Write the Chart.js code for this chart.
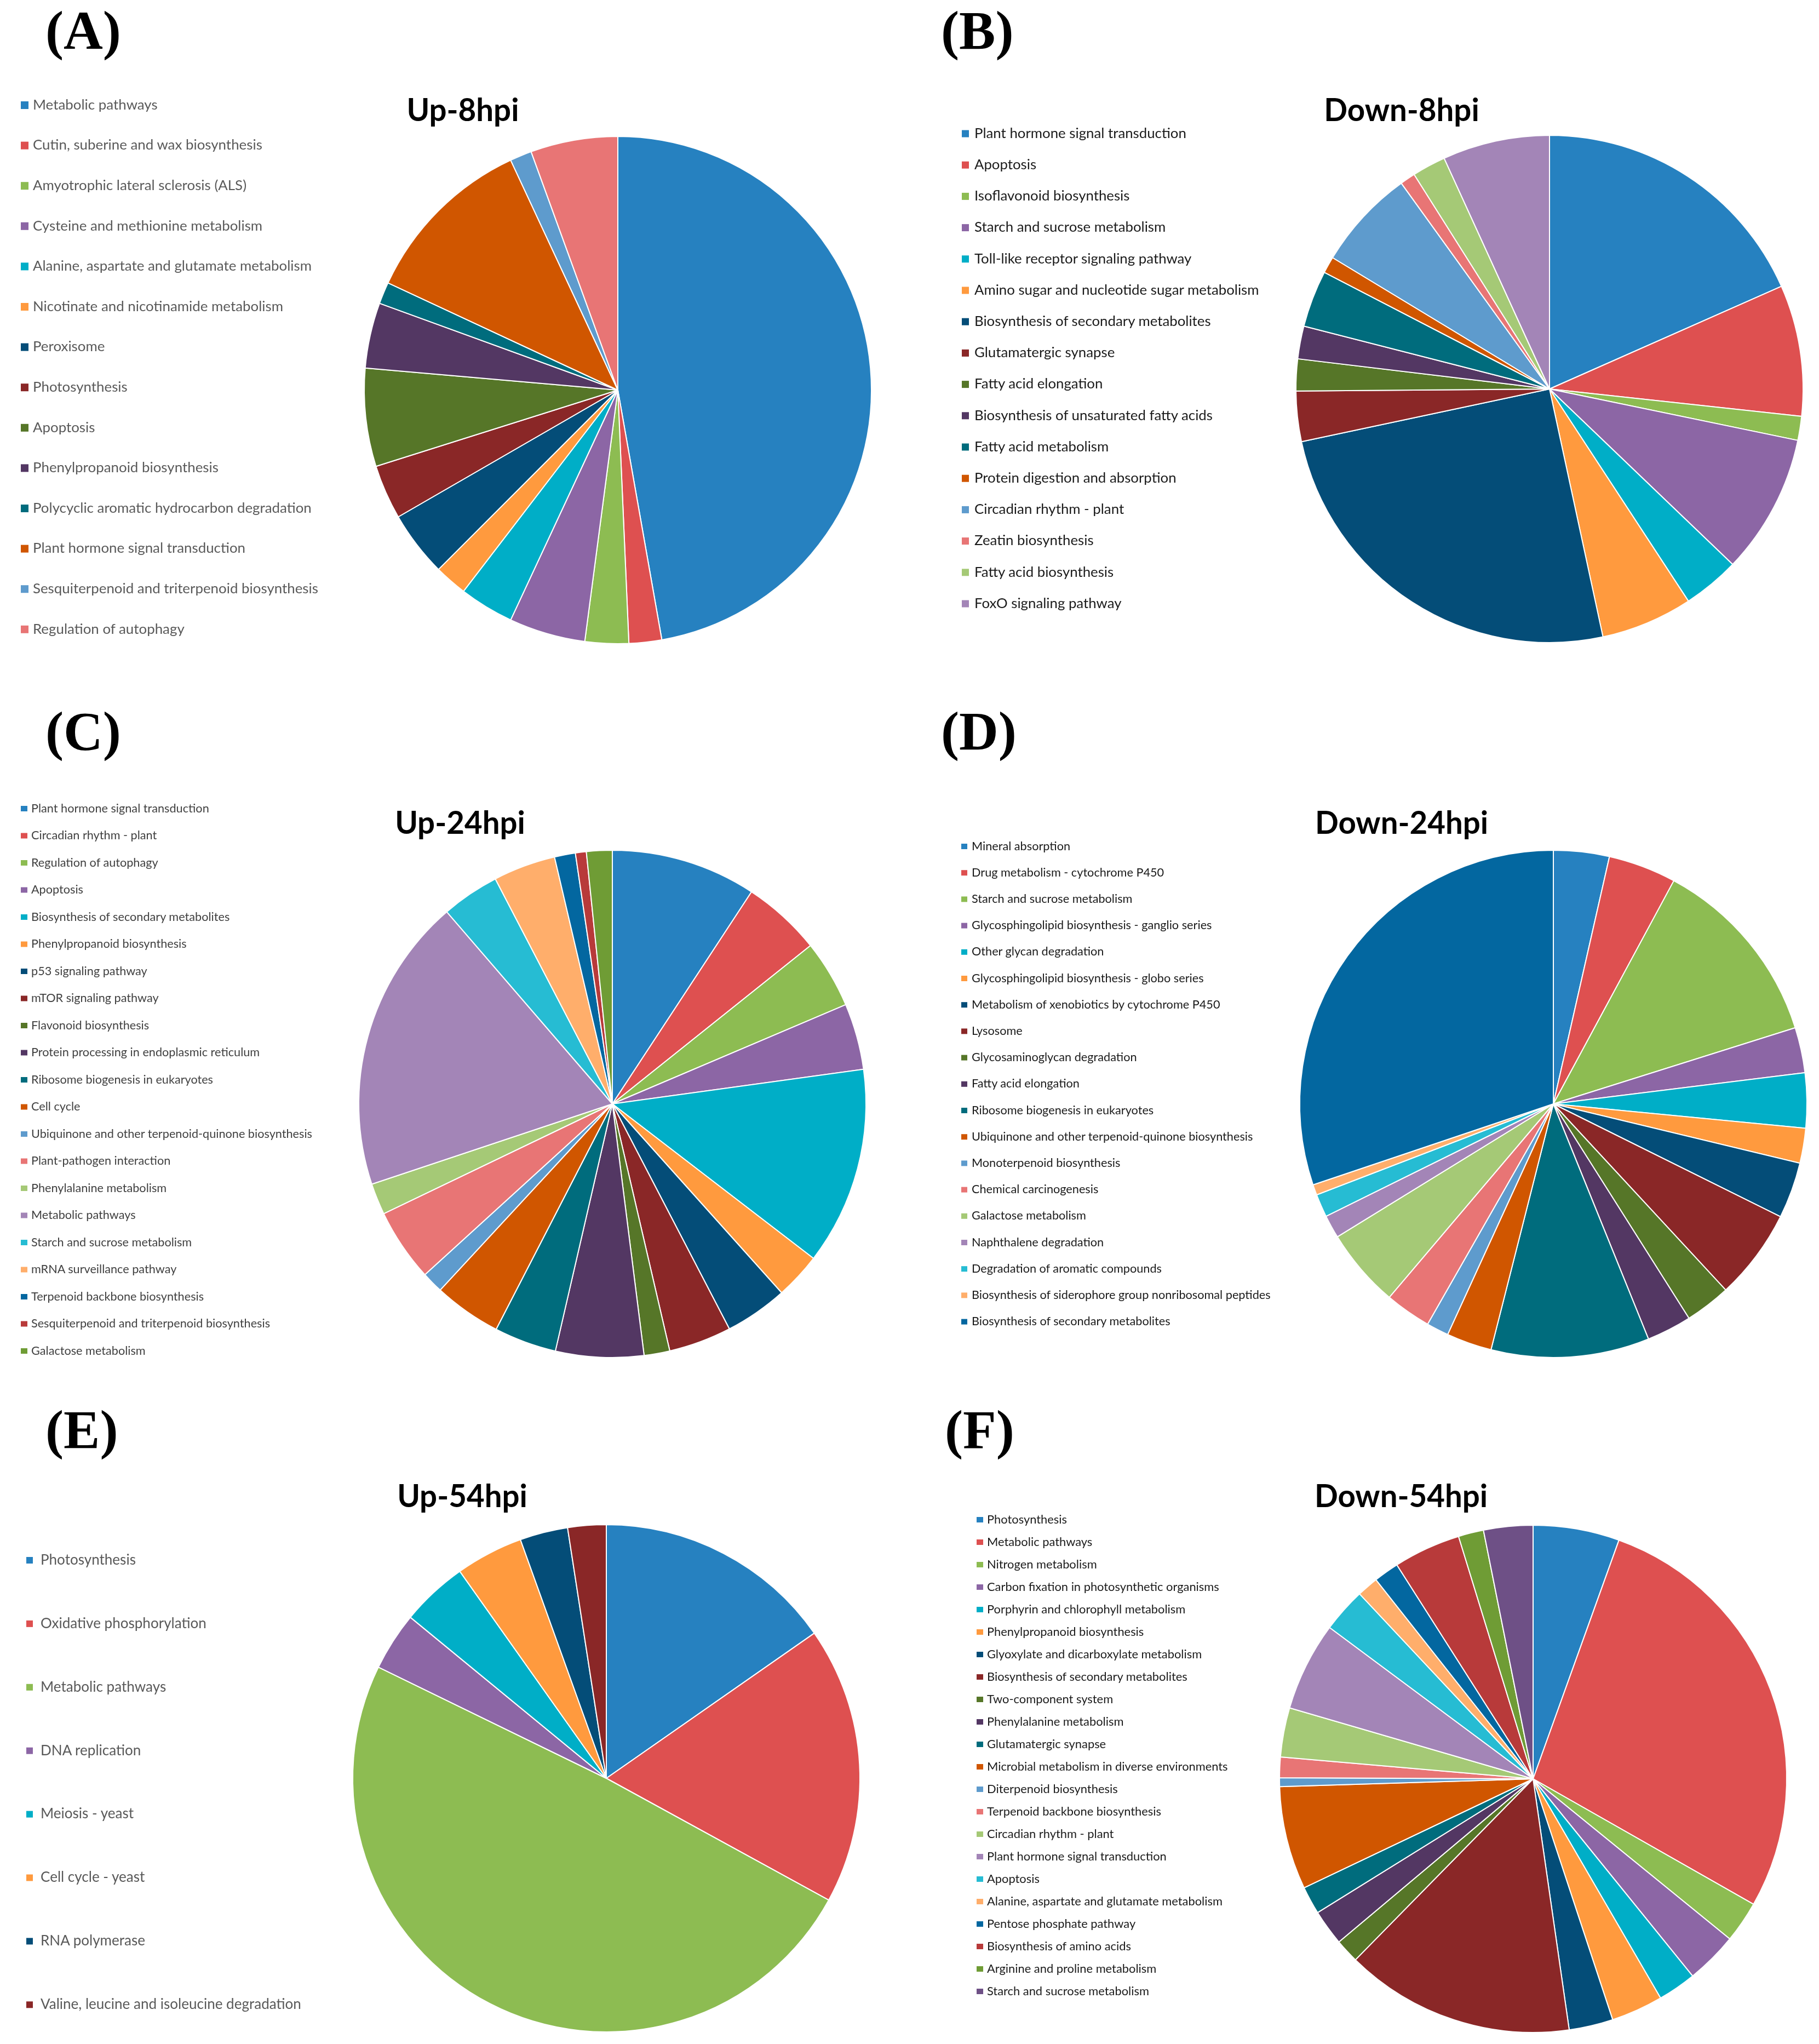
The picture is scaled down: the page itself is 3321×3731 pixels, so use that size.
<!DOCTYPE html>
<html>
<head>
<meta charset="utf-8">
<title>KEGG pathway pies</title>
<script src="https://cdn.jsdelivr.net/npm/chart.js@4.4.1/dist/chart.umd.min.js"></script>
<style>
  html, body { margin: 0; padding: 0; background: #fff; }
  #page { position: relative; width: 3321px; height: 3731px; background: #fff; overflow: hidden; }
  #page canvas { position: absolute; }
  #txt { position: absolute; left: 0; top: 0; pointer-events: none; }
</style>
</head>
<body>
<div id="page">
  <svg id="txt" width="3321" height="3731" xmlns="http://www.w3.org/2000/svg"></svg>
</div>
<script>
// slice colours, same order in every panel
const palette = ['#2681C0', '#DE5050', '#8DBC52', '#8C66A5', '#00AEC7', '#FF9A3E', '#044D78', '#8A2727',
                 '#567628', '#533763', '#006C7D', '#D05600', '#5E9BCD', '#E87575', '#A5C976', '#A385B7',
                 '#26BCD3', '#FFAE6B', '#0367A0', '#B83A3A', '#6F9C35', '#6E5086'];

// (A) Up-8hpi
const labelsA = ['Metabolic pathways', 'Cutin, suberine and wax biosynthesis', 'Amyotrophic lateral sclerosis (ALS)',
  'Cysteine and methionine metabolism', 'Alanine, aspartate and glutamate metabolism', 'Nicotinate and nicotinamide metabolism',
  'Peroxisome', 'Photosynthesis', 'Apoptosis', 'Phenylpropanoid biosynthesis', 'Polycyclic aromatic hydrocarbon degradation',
  'Plant hormone signal transduction', 'Sesquiterpenoid and triterpenoid biosynthesis', 'Regulation of autophagy'];
const valuesA = [68, 3, 4, 7, 5, 3, 6, 5, 9, 6, 2, 16, 2, 8];

// (B) Down-8hpi
const labelsB = ['Plant hormone signal transduction', 'Apoptosis', 'Isoflavonoid biosynthesis', 'Starch and sucrose metabolism',
  'Toll-like receptor signaling pathway', 'Amino sugar and nucleotide sugar metabolism', 'Biosynthesis of secondary metabolites',
  'Glutamatergic synapse', 'Fatty acid elongation', 'Biosynthesis of unsaturated fatty acids', 'Fatty acid metabolism',
  'Protein digestion and absorption', 'Circadian rhythm - plant', 'Zeatin biosynthesis', 'Fatty acid biosynthesis',
  'FoxO signaling pathway'];
const valuesB = [66, 30, 5.5, 32, 13, 21, 90, 11.5, 7.3, 7.5, 13, 3.8, 23, 3.5, 7.7, 24.5];

// (C) Up-24hpi
const labelsC = ['Plant hormone signal transduction', 'Circadian rhythm - plant', 'Regulation of autophagy', 'Apoptosis',
  'Biosynthesis of secondary metabolites', 'Phenylpropanoid biosynthesis', 'p53 signaling pathway', 'mTOR signaling pathway',
  'Flavonoid biosynthesis', 'Protein processing in endoplasmic reticulum', 'Ribosome biogenesis in eukaryotes', 'Cell cycle',
  'Ubiquinone and other terpenoid-quinone biosynthesis', 'Plant-pathogen interaction', 'Phenylalanine metabolism',
  'Metabolic pathways', 'Starch and sucrose metabolism', 'mRNA surveillance pathway', 'Terpenoid backbone biosynthesis',
  'Sesquiterpenoid and triterpenoid biosynthesis', 'Galactose metabolism'];
const valuesC = [33.3, 18.1, 15.6, 15.2, 45.4, 10.6, 14.4, 14.4, 5.9, 20.2, 14.3, 15.5, 4.9, 16.7, 7.2, 67.7, 13.3, 14.3, 4.8, 2.5, 5.9];

// (D) Down-24hpi
const labelsD = ['Mineral absorption', 'Drug metabolism - cytochrome P450', 'Starch and sucrose metabolism',
  'Glycosphingolipid biosynthesis - ganglio series', 'Other glycan degradation', 'Glycosphingolipid biosynthesis - globo series',
  'Metabolism of xenobiotics by cytochrome P450', 'Lysosome', 'Glycosaminoglycan degradation', 'Fatty acid elongation',
  'Ribosome biogenesis in eukaryotes', 'Ubiquinone and other terpenoid-quinone biosynthesis', 'Monoterpenoid biosynthesis',
  'Chemical carcinogenesis', 'Galactose metabolism', 'Naphthalene degradation', 'Degradation of aromatic compounds',
  'Biosynthesis of siderophore group nonribosomal peptides', 'Biosynthesis of secondary metabolites'];
const valuesD = [12.8, 15.6, 44.2, 10.4, 12.6, 8.0, 12.9, 20.8, 10.5, 10.3, 36.3, 10.4, 5.1, 10.6, 18.1, 5.3, 5.3, 2.4, 108.7];

// (E) Up-54hpi
const labelsE = ['Photosynthesis', 'Oxidative phosphorylation', 'Metabolic pathways', 'DNA replication', 'Meiosis - yeast',
  'Cell cycle - yeast', 'RNA polymerase', 'Valine, leucine and isoleucine degradation'];
const valuesE = [55.1, 63.6, 177.3, 13.4, 15.3, 15.5, 11, 8.8];

// (F) Down-54hpi
const labelsF = ['Photosynthesis', 'Metabolic pathways', 'Nitrogen metabolism', 'Carbon fixation in photosynthetic organisms',
  'Porphyrin and chlorophyll metabolism', 'Phenylpropanoid biosynthesis', 'Glyoxylate and dicarboxylate metabolism',
  'Biosynthesis of secondary metabolites', 'Two-component system', 'Phenylalanine metabolism', 'Glutamatergic synapse',
  'Microbial metabolism in diverse environments', 'Diterpenoid biosynthesis', 'Terpenoid backbone biosynthesis',
  'Circadian rhythm - plant', 'Plant hormone signal transduction', 'Apoptosis', 'Alanine, aspartate and glutamate metabolism',
  'Pentose phosphate pathway', 'Biosynthesis of amino acids', 'Arginine and proline metabolism', 'Starch and sucrose metabolism'];
const valuesF = [19.8, 99.9, 9.5, 11.9, 8.8, 11.9, 10.1, 52.7, 5.5, 8.2, 6.4, 23.7, 2, 4.7, 11.3, 20.4, 10.2, 4.9, 5.8, 15.4, 5.8, 11.3];

const titles = ['Up-8hpi', 'Down-8hpi', 'Up-24hpi', 'Down-24hpi', 'Up-54hpi', 'Down-54hpi'];
const tags = ['(A)', '(B)', '(C)', '(D)', '(E)', '(F)'];

// where each panel sits on the page
const panels = [
  { labels: labelsA, values: valuesA, cx: 1128, cy: 712, tagX: 83, tagY: 89, titleX: 845, titleY: 221,
    boxX: 38, boxW: 14, boxH: 14, textX: 60, legY: 192, step: 73.6, color: '#595959', fitIdx: 1, fitW: 419 },
  { labels: labelsB, values: valuesB, cx: 2829, cy: 710, tagX: 1718, tagY: 89, titleX: 2559, titleY: 221,
    boxX: 1756, boxW: 13, boxH: 13, textX: 1779, legY: 244, step: 57.2, color: '#1a1a1a', fitIdx: 0, fitW: 387 },
  { labels: labelsC, values: valuesC, cx: 1118, cy: 2015, tagX: 83, tagY: 1368, titleX: 840, titleY: 1522,
    boxX: 38, boxW: 12, boxH: 10, textX: 57, legY: 1476, step: 49.5, color: '#404040', fitIdx: 0, fitW: 325 },
  { labels: labelsD, values: valuesD, cx: 2836, cy: 2015, tagX: 1718, tagY: 1368, titleX: 2559, titleY: 1522,
    boxX: 1755, boxW: 11, boxH: 10, textX: 1774, legY: 1545, step: 48.2, color: '#1a1a1a', fitIdx: 17, fitW: 546 },
  { labels: labelsE, values: valuesE, cx: 1107, cy: 3246, tagX: 83, tagY: 2643, titleX: 844, titleY: 2751,
    boxX: 48, boxW: 12, boxH: 12, textX: 74, legY: 2848, step: 115.9, color: '#595959', fitIdx: 7, fitW: 476 },
  { labels: labelsF, values: valuesF, cx: 2799, cy: 3247, tagX: 1725, tagY: 2643, titleX: 2558, titleY: 2751,
    boxX: 1783, boxW: 12, boxH: 10, textX: 1802, legY: 2774, step: 41, color: '#1a1a1a', fitIdx: 11, fitW: 440 }
];

const SVGNS = 'http://www.w3.org/2000/svg';
const page = document.getElementById('page');
const svg = document.getElementById('txt');

function addText(str, x, y, o) {
  const t = document.createElementNS(SVGNS, 'text');
  t.textContent = str;
  t.setAttribute('x', x);
  t.setAttribute('y', y);
  t.setAttribute('font-family', o.family);
  t.setAttribute('font-size', o.size);
  if (o.weight) t.setAttribute('font-weight', o.weight);
  if (o.anchor) t.setAttribute('text-anchor', o.anchor);
  t.setAttribute('fill', o.color || '#000');
  svg.appendChild(t);
  return t;
}

// font size that makes `str` come out `target` px wide
function fitSize(str, target, family, weight) {
  const t = addText(str, 0, -500, { family: family, size: 100, weight: weight });
  const w = t.getComputedTextLength();
  svg.removeChild(t);
  return 100 * target / w;
}

const LEG_FONT = 'Lato, "Open Sans", sans-serif';
const TITLE_FONT = 'Lato, "Open Sans", sans-serif';
const TAG_FONT = '"Liberation Serif", "DejaVu Serif", serif';

const titleSize = fitSize('Up-8hpi', 205, TITLE_FONT, 'bold');
const tagSize = fitSize('(C)', 138, TAG_FONT, 'bold');

panels.forEach((p, k) => {
  // pie
  const cv = document.createElement('canvas');
  cv.width = 960;
  cv.height = 960;
  cv.style.left = (p.cx - 480) + 'px';
  cv.style.top = (p.cy - 480) + 'px';
  page.insertBefore(cv, svg);
  new Chart(cv, {
    type: 'pie',
    data: {
      labels: p.labels,
      datasets: [{
        data: p.values,
        backgroundColor: palette.slice(0, p.values.length),
        borderColor: '#ffffff',
        borderWidth: 2
      }]
    },
    options: {
      responsive: false,
      animation: false,
      devicePixelRatio: 1,
      radius: 463,
      layout: { padding: 0 },
      plugins: {
        legend: { display: false },
        tooltip: { enabled: false }
      }
    }
  });

  // panel letter and title
  addText(tags[k], p.tagX, p.tagY, { family: TAG_FONT, size: tagSize, weight: 'bold', color: '#000' });
  addText(titles[k], p.titleX, p.titleY, { family: TITLE_FONT, size: titleSize, weight: 'bold', anchor: 'middle', color: '#000' });

  // legend
  const fs = fitSize(p.labels[p.fitIdx], p.fitW, LEG_FONT);
  p.labels.forEach((lab, i) => {
    const y = p.legY + i * p.step;
    const r = document.createElementNS(SVGNS, 'rect');
    r.setAttribute('x', p.boxX);
    r.setAttribute('y', y - p.boxH / 2);
    r.setAttribute('width', p.boxW);
    r.setAttribute('height', p.boxH);
    r.setAttribute('fill', palette[i]);
    svg.appendChild(r);
    addText(lab, p.textX, y + fs * 0.3, { family: LEG_FONT, size: fs, color: p.color });
  });
});
</script>
</body>
</html>
